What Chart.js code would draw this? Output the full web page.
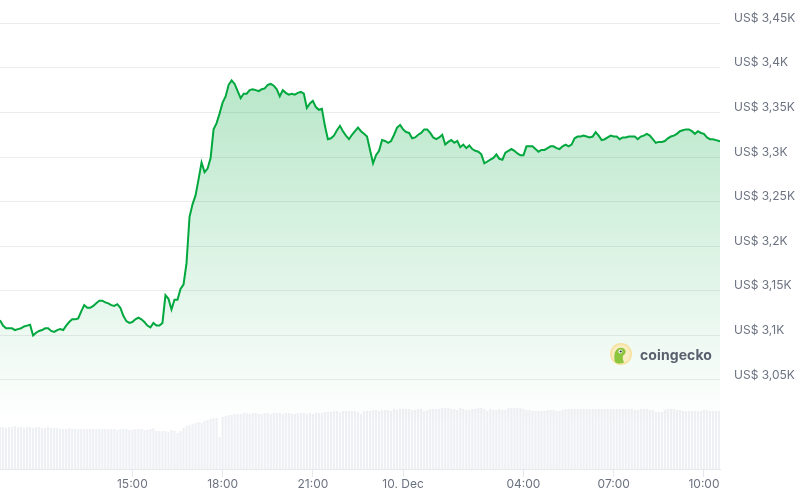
<!DOCTYPE html>
<html><head><meta charset="utf-8">
<script src="https://cdn.jsdelivr.net/npm/chart.js@4.4.1/dist/chart.umd.min.js"></script>
<style>
html,body{margin:0;padding:0;background:#fff;}
#wrap{position:relative;width:800px;height:497px;overflow:hidden;}
#c{position:absolute;left:0;top:0;}
#wm{position:absolute;left:610px;top:343px;height:22px;display:flex;align-items:center;gap:8px;font-family:Inter,"Open Sans",sans-serif;font-weight:700;font-size:14px;color:#5b5f6e;letter-spacing:0.1px;}
#wm svg{display:block;}
</style></head>
<body><div id="wrap"><canvas id="c" width="800" height="497"></canvas>
<div id="wm"><svg width="22" height="22" viewBox="0 0 22 22"><circle cx="11" cy="11" r="11" fill="#f7e2a0"/><circle cx="11" cy="11" r="9.2" fill="#faedc2"/><path d="M5 19 C3.8 14 4 8.5 7.5 5.8 C10.5 3.8 14.5 4.6 15.6 7.8 C16.3 10 14.3 11.6 13.2 12.6 C12.2 14.2 13 17.2 14 19.6 C11 21 7.6 21 5 19 Z" fill="#8cc63f"/><circle cx="10.4" cy="8.4" r="2" fill="#fff"/><circle cx="10.7" cy="8.5" r="1.1" fill="#333"/></svg><span>coingecko</span></div></div>
<script>
// Time axis: first sample 9 Dec 10:36, one sample every 6 minutes
const startLabel = '9 Dec 10:36';
const stepMinutes = 6;

// ETH price (USD), one value per 6-minute step
const prices = [
  3117,3111,3108,3108,3108,3106,3107,3108,3110,3111,
  3112,3100,3103,3105,3106,3108,3108,3105,3104,3106,
  3107,3106,3111,3115,3118,3118,3119,3127,3134,3131,
  3131,3133,3136,3139,3139,3137,3136,3134,3133,3135,
  3131,3122,3116,3114,3115,3118,3120,3118,3115,3111,
  3109,3114,3111,3111,3114,3145,3141,3129,3140,3140,
  3152,3157,3181,3233,3247,3257,3275,3294,3283,3287,
  3299,3331,3338,3349,3361,3368,3381,3386,3382,3374,
  3366,3371,3371,3375,3376,3375,3374,3376,3377,3381,
  3382,3380,3376,3368,3375,3372,3370,3371,3370,3372,
  3373,3371,3355,3360,3363,3356,3353,3354,3335,3320,
  3321,3324,3330,3335,3329,3324,3320,3325,3329,3333,
  3329,3326,3323,3308,3293,3302,3307,3319,3318,3316,
  3318,3325,3333,3336,3331,3328,3327,3321,3322,3325,
  3327,3331,3331,3327,3322,3320,3322,3325,3314,3317,
  3319,3316,3318,3311,3314,3310,3313,3309,3307,3306,
  3303,3293,3295,3297,3299,3303,3298,3297,3305,3307,
  3309,3307,3304,3302,3302,3312,3312,3312,3309,3306,
  3308,3308,3310,3312,3312,3310,3309,3312,3314,3312,
  3314,3321,3323,3323,3324,3323,3322,3323,3328,3324,
  3319,3320,3322,3324,3323,3323,3320,3322,3322,3323,
  3323,3323,3320,3323,3324,3326,3324,3320,3316,3317,
  3317,3318,3321,3323,3324,3326,3329,3330,3331,3331,
  3329,3326,3329,3327,3326,3322,3320,3320,3319,3318,
  3317
];

// 24h trading volume (USD billions), one value per 6-minute step
const volumes = [
  42,42,41,42,42,43,42,42,41,42,
  42,41,42,42,41,41,42,41,41,41,
  40,40,40,41,40,40,40,40,40,40,
  40,40,40,40,40,40,40,40,40,39,
  40,40,40,39,39,40,40,40,39,39,
  40,41,38,38,38,38,37,39,38,36,
  38,41,43,44,45,46,47,46,48,49,
  50,51,51,32,52,53,54,54,55,55,
  55,56,56,55,56,56,55,55,56,56,
  55,56,56,56,55,56,56,55,55,56,
  56,56,55,56,55,56,56,56,57,57,
  57,58,58,57,58,58,58,58,58,57,
  55,58,58,58,59,59,58,59,59,59,
  58,60,59,60,60,60,60,59,59,60,
  60,58,59,60,60,60,60,61,61,61,
  60,60,59,61,60,59,59,60,60,61,
  61,60,58,60,59,59,60,59,59,61,
  61,61,61,61,60,59,59,58,58,58,
  58,58,59,59,59,58,58,59,60,60,
  60,60,60,60,60,60,60,60,60,60,
  60,60,60,60,60,60,60,60,60,60,
  60,59,59,60,60,60,59,59,57,57,
  57,59,60,60,60,59,59,58,58,58,
  58,58,58,58,59,59,58,58,58,58
];

// x-axis ticks (minutes after first sample) and their labels
const xTickMinutes = [264, 444, 624, 804, 1044, 1224, 1404];
const xTickLabels = ['15:00', '18:00', '21:00', '10. Dec', '04:00', '07:00', '10:00'];

// price axis ticks
const yTickValues = [3050, 3100, 3150, 3200, 3250, 3300, 3350, 3400, 3450];
const yTickLabels = ['US$ 3,05K', 'US$ 3,1K', 'US$ 3,15K', 'US$ 3,2K', 'US$ 3,25K', 'US$ 3,3K', 'US$ 3,35K', 'US$ 3,4K', 'US$ 3,45K'];

const priceData = prices.map((p, i) => ({x: i * stepMinutes, y: p}));
const volumeData = volumes.map((v, i) => ({x: i * stepMinutes, y: v}));

const textColor = '#6b7280';
const font = {family: 'Inter', size: 12, weight: '400'};

new Chart(document.getElementById('c'), {
  data: {
    datasets: [
      {
        type: 'line', label: 'Price', data: priceData, yAxisID: 'y', order: 1,
        borderColor: '#00a83e', borderWidth: 2, pointRadius: 0, tension: 0,
        fill: 'start',
        backgroundColor: (ctx) => {
          const ca = ctx.chart.chartArea;
          if (!ca) return 'rgba(0,168,62,0.15)';
          const g = ctx.chart.ctx.createLinearGradient(0, ca.top, 0, ca.bottom);
          g.addColorStop(0, 'rgba(0,168,62,0.34)');
          g.addColorStop(0.9, 'rgba(0,168,62,0)');
          g.addColorStop(1, 'rgba(0,168,62,0)');
          return g;
        }
      },
      {
        type: 'bar', label: 'Volume', data: volumeData, yAxisID: 'yv', order: 2,
        backgroundColor: '#eef0f3', barPercentage: 0.72, categoryPercentage: 1
      }
    ]
  },
  options: {
    responsive: false, animation: false, devicePixelRatio: 1,
    layout: {padding: 0},
    plugins: {legend: {display: false}, tooltip: {enabled: false}},
    scales: {
      x: {
        type: 'linear', min: 0, max: 1436, offset: false,
        afterBuildTicks: (a) => { a.ticks = xTickMinutes.map(v => ({value: v})); },
        afterFit: (a) => { a.height = 28; a.paddingLeft = 0; a.paddingRight = 0; },
        ticks: {
          callback: (v, i) => xTickLabels[i], color: textColor, font: font,
          padding: 0, maxRotation: 0, autoSkip: false
        },
        grid: {offset: false, drawOnChartArea: false, drawTicks: true, tickLength: 8, color: '#e6e8eb'},
        border: {display: true, color: '#e6e8eb'}
      },
      y: {
        position: 'right', min: 2950.2, max: 3476.1,
        afterBuildTicks: (a) => { a.ticks = yTickValues.map(v => ({value: v})); },
        afterFit: (a) => { a.width = 80; a.paddingTop = 0; a.paddingBottom = 0; },
        ticks: {
          callback: (v, i) => yTickLabels[i], color: textColor, font: font,
          padding: 14, labelOffset: -5, autoSkip: false
        },
        grid: {drawTicks: false, color: '#ececec'},
        border: {display: false}
      },
      yv: {display: false, min: 0, max: 469}
    }
  }
});
</script>
</body></html>
